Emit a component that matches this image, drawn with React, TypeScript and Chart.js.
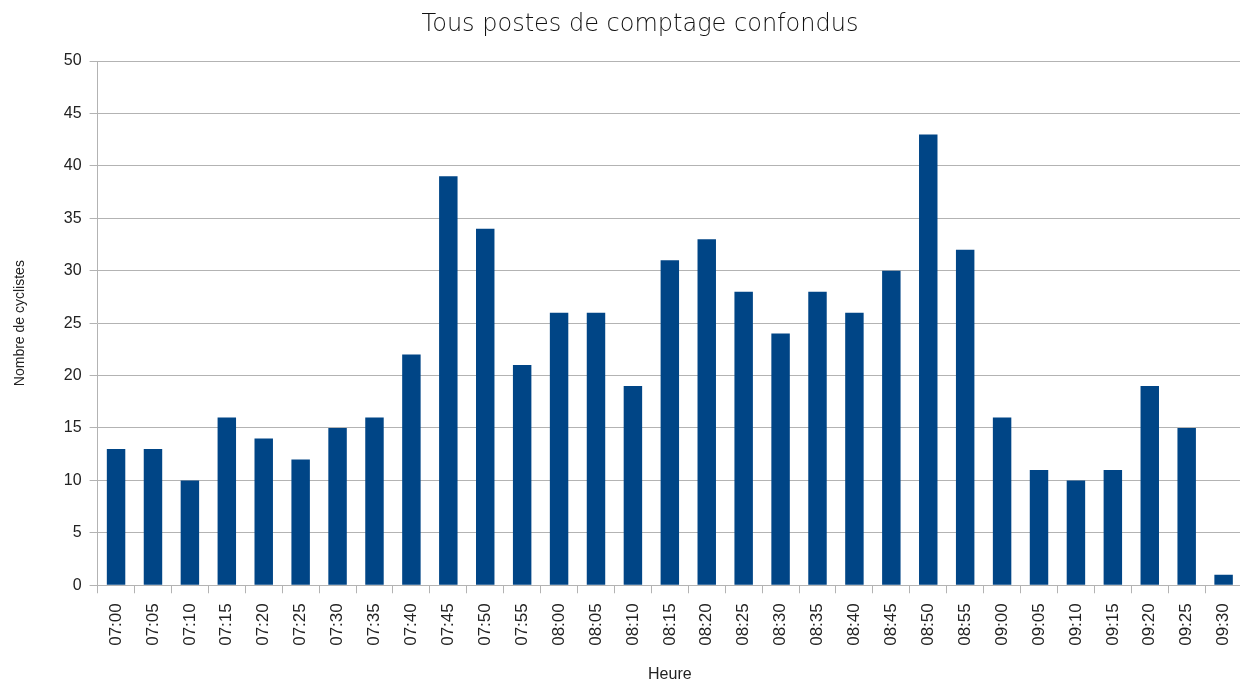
import React, { useEffect, useRef } from "react";
import { Chart, registerables } from "chart.js";

Chart.register(...registerables);

const categories = ["07:00","07:05","07:10","07:15","07:20","07:25","07:30","07:35","07:40","07:45","07:50","07:55","08:00","08:05","08:10","08:15","08:20","08:25","08:30","08:35","08:40","08:45","08:50","08:55","09:00","09:05","09:10","09:15","09:20","09:25","09:30"];
const cyclistes = [13,13,10,16,14,12,15,16,22,39,34,21,26,26,19,31,33,28,24,28,26,30,43,32,16,11,10,11,19,15,1];
const titleText = "Tous postes de comptage confondus";
const yTitle = "Nombre de cyclistes";
const xTitle = "Heure";

const titlePlugin = {
  id: "customTitle",
  afterDraw(chart: any) {
    const ctx = chart.ctx;
    ctx.save();
    ctx.fillStyle = "#111";
    ctx.font = "200 24px 'DejaVu Sans', sans-serif";
    ctx.textAlign = "center";
    ctx.textBaseline = "middle";
    ctx.fillText(titleText, 640, 25);
    ctx.restore();
  },
};

export default function App() {
  const ref = useRef<HTMLCanvasElement | null>(null);
  useEffect(() => {
    const chart = new Chart(ref.current!, {
      type: "bar",
      data: {
        labels: categories,
        datasets: [{
          data: cyclistes,
          backgroundColor: "#004586",
          borderWidth: 0,
          barPercentage: 0.5,
          categoryPercentage: 1,
        }],
      },
      plugins: [titlePlugin],
      options: {
        animation: false,
        responsive: false,
        layout: { padding: { left: 12, right: 0, top: 61, bottom: 0 } },
        plugins: {
          legend: { display: false },
          tooltip: { enabled: false },
          title: { display: false },
        },
        scales: {
          x: {
            offset: true,
            grid: { offset: true, drawOnChartArea: false, drawTicks: true, tickLength: 8, color: "#b3b3b3", lineWidth: 1 },
            border: { display: true, color: "#b3b3b3", width: 1 },
            ticks: {
              minRotation: 90, maxRotation: 90, autoSkip: false,
              color: "#222",
              font: { family: "'Liberation Sans', sans-serif", size: 17 },
              padding: 10,
            },
            title: {
              display: true, text: xTitle, color: "#222",
              font: { family: "'Liberation Sans', sans-serif", size: 16 },
              padding: { top: 9, bottom: 0 },
            },
          },
          y: {
            min: 0, max: 50,
            ticks: {
              stepSize: 5, color: "#222",
              font: { family: "'Liberation Sans', sans-serif", size: 16 },
              padding: 8,
            },
            grid: { color: "#b3b3b3", lineWidth: 1, tickLength: 8 },
            border: { display: true, color: "#b3b3b3", width: 1 },
            title: {
              display: true, text: yTitle, color: "#222",
              font: { family: "'Liberation Sans', sans-serif", size: 14 },
              padding: { top: 0, bottom: 27 },
            },
          },
        },
      },
    });
    return () => chart.destroy();
  }, []);
  return (
    <div style={{ position: "fixed", left: 0, top: 0, width: 1240, height: 684, background: "#fff", overflow: "hidden" }}>
      <canvas ref={ref} width={1254} height={684} style={{ display: "block" }} />
    </div>
  );
}
